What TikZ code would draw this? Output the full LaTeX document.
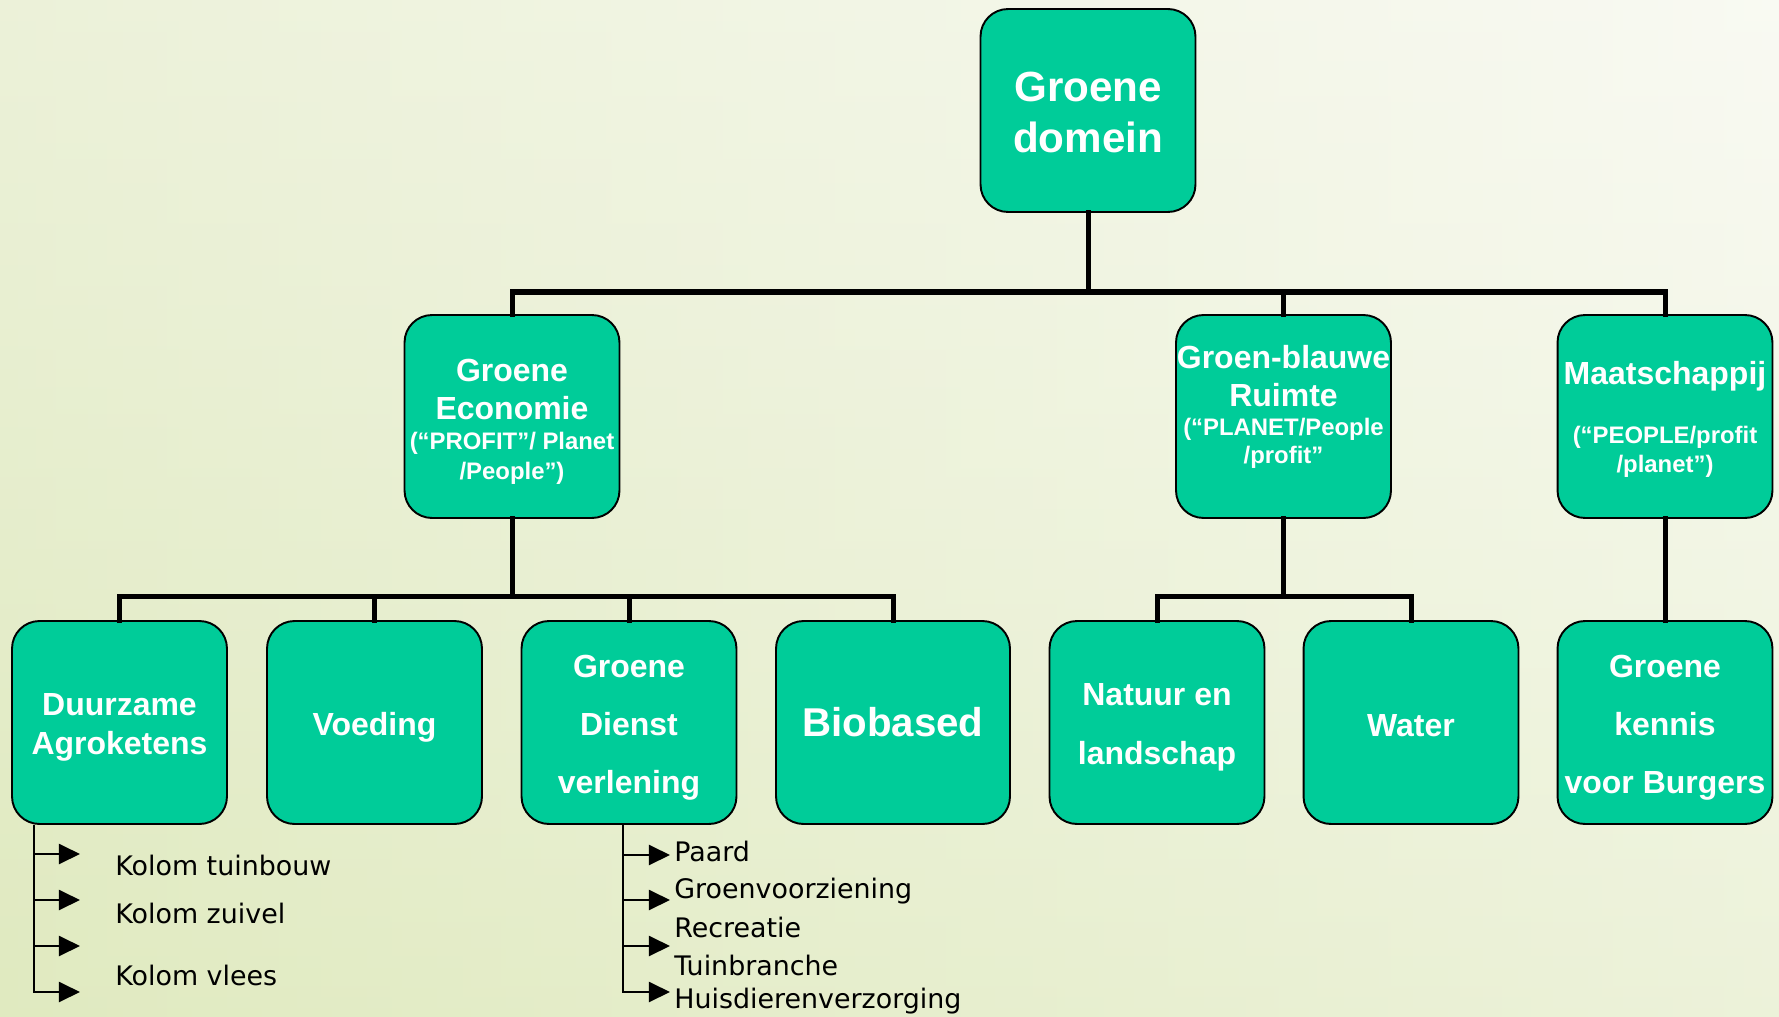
\documentclass[tikz,border=0pt]{standalone}
\usepackage{fontspec}
\setmainfont{Liberation Sans}
\newfontfamily\listfont{DejaVu Sans}
\usetikzlibrary{arrows.meta,calc,positioning}

\definecolor{boxgreen}{RGB}{0,204,153}
\definecolor{leafpale}{RGB}{249,250,243}
\definecolor{leafgreen}{RGB}{224,234,192}

\newcommand{\bigttl}{\fontsize{24pt}{29pt}\selectfont\bfseries}
\newcommand{\ttl}{\fontsize{18.2pt}{21.6pt}\selectfont\bfseries}
\newcommand{\subttl}{\fontsize{13.6pt}{16pt}\selectfont\bfseries}
\newcommand{\tstrut}[1]{\rule{0pt}{#1}}

\begin{document}
\begin{tikzpicture}
    [x=0.02cm, y=-0.02cm,
    box/.style={rectangle, rounded corners=0.55cm, draw=black, line width=1.1pt,
    fill=boxgreen, text=white, align=center, inner sep=0pt,
    minimum width=4.3cm, minimum height=4.06cm, font=\ttl},
    tree/.style={line width=2.85pt, line cap=rect},
    feed/.style={line width=1.2pt, -{Triangle[length=12pt,width=11.4pt]}},
    item/.style={anchor=base west, inner sep=0pt, font=\listfont\fontsize{15.3pt}{18pt}\selectfont}]

  \useasboundingbox (0,0) rectangle (1779,1017);
  \shade[top color=leafpale, bottom color=leafgreen] (0,0) rectangle (1779,1017);
  \shade[left color=leafgreen, right color=leafpale, opacity=0.5] (0,0) rectangle (1779,1017);

  \node[box, font=\bigttl] (top) at (1088,110.5) {\tstrut{19.5pt}Groene\\domein};

  \node[box] (eco) at (512,416.5)
    {\tstrut{19pt}Groene\\Economie\\[-4.7pt]{\subttl (“PROFIT”/ Planet}\\[-4.6pt]{\subttl /People”)}};
  \node[box] (gb) at (1283.5,416.5)
    {\tstrut{16pt}Groen-blauwe\\Ruimte\\[-4.7pt]{\subttl (“PLANET/People}\\[-5.6pt]{\subttl /profit”}\\[-5pt]\mbox{}};
  \node[box] (maat) at (1665,416.5)
    {\tstrut{16.8pt}Maatschappij\\[11.7pt]{\subttl (“PEOPLE/profit}\\[-5pt]{\subttl /planet”)}};

  \node[box, font=\fontsize{18.2pt}{22pt}\selectfont\bfseries] (duur) at (119.5,722.5) {\tstrut{18.2pt}Duurzame\\Agroketens};
  \node[box] (voed) at (374.5,722.5) {\tstrut{18.2pt}Voeding};
  \node[box, font=\fontsize{18.2pt}{33pt}\selectfont\bfseries] (dienst) at (629,722.5) {\tstrut{18.5pt}Groene\\Dienst\\verlening};
  \node[box, font=\fontsize{22.9pt}{27pt}\selectfont\bfseries, minimum width=4.68cm] (bio) at (893,722.5) {Biobased};
  \node[box, font=\fontsize{18.2pt}{33.5pt}\selectfont\bfseries] (natuur) at (1157,722.5) {\tstrut{18.2pt}Natuur en\\landschap};
  \node[box] (water) at (1411,722.5) {\tstrut{15.8pt}Water};
  \node[box, font=\fontsize{18.2pt}{33pt}\selectfont\bfseries] (kennis) at (1665,722.5) {\tstrut{18.5pt}Groene\\kennis\\voor Burgers};

  \coordinate (bus1) at (0,292);
  \coordinate (bus2) at (0,596);

  \draw[tree] (top.south) -- (top.south |- bus1) -| (eco.north);
  \draw[tree] (top.south |- bus1) -| (gb.north);
  \draw[tree] (top.south |- bus1) -| (maat.north);

  \draw[tree] (eco.south) -- (eco.south |- bus2) -| (duur.north);
  \draw[tree] (eco.south |- bus2) -| (voed.north);
  \draw[tree] (eco.south |- bus2) -| (dienst.north);
  \draw[tree] (eco.south |- bus2) -| (bio.north);
  \draw[tree] (gb.south) -- (gb.south |- bus2) -| (natuur.north);
  \draw[tree] (gb.south |- bus2) -| (water.north);
  \draw[tree] (maat.south) -- (kennis.north);

  \coordinate (dtrunk) at ($(duur.south west)+(23,0)$);
  \coordinate (k1) at (80,854);
  \coordinate (k2) at (80,900);
  \coordinate (k3) at (80,946);
  \coordinate (k4) at (80,992);
  \foreach \k in {k1,k2,k3,k4}
    \draw[feed] (dtrunk) |- (\k);

  \node[item] (kt) at (115,875) {Kolom tuinbouw};
  \node[item] (kz) at (115,923) {Kolom zuivel};
  \node[item] (kv) at (115,985) {Kolom vlees};

  \coordinate (gtrunk) at ($(dienst.south west)+(102,0)$);
  \coordinate (g1) at (670,855);
  \coordinate (g2) at (670,900);
  \coordinate (g3) at (670,946);
  \coordinate (g4) at (670,992);
  \foreach \g in {g1,g2,g3,g4}
    \draw[feed] (gtrunk) |- (\g);

  \node[item] (pa) at (674,861) {Paard};
  \node[item] (gv) at (674,898) {Groenvoorziening};
  \node[item] (re) at (674,937) {Recreatie};
  \node[item] (tb) at (674,975) {Tuinbranche};
  \node[item] (hv) at (674,1008) {Huisdierenverzorging};

\end{tikzpicture}
\end{document}
